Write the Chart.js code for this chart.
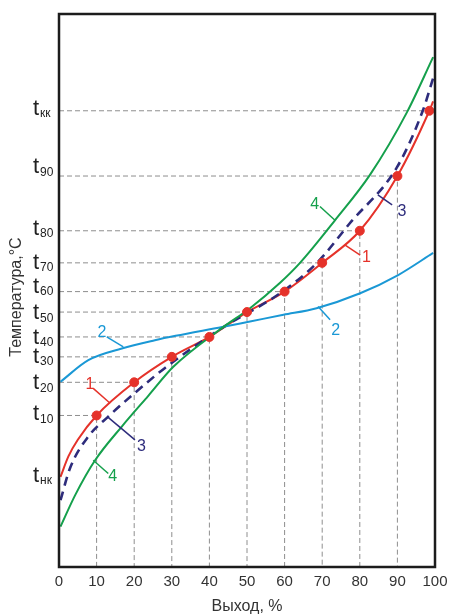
<!DOCTYPE html>
<html>
<head>
<meta charset="utf-8">
<script src="https://cdn.jsdelivr.net/npm/chart.js@4.4.0/dist/chart.umd.min.js"></script>
<style>
  html, body { margin: 0; padding: 0; background: #fff; }
</style>
</head>
<body>
<canvas id="chart" width="449" height="616"></canvas>
<script>
// Кривые разгонки: выход (%) -> температура (условные единицы шкалы)
const curve1X = [0.4, 2.5, 5, 10, 20, 30, 40, 50, 60, 70, 80, 90, 98.5, 99.5];
const curve1Y = [16.3, 20.0, 23.0, 27.4, 33.4, 38.0, 41.6, 46.1, 49.8, 55.0, 60.8, 70.7, 82.5, 84.2];

const curve2X = [0.4, 7.8, 16.7, 25.5, 31, 43.4, 50.8, 59.7, 68.5, 80.1, 90.2, 99.5];
const curve2Y = [33.5, 37.4, 39.5, 41.0, 41.8, 43.4, 44.4, 45.6, 46.8, 49.5, 52.8, 56.8];

const curve3X = [0.4, 3.0, 7.8, 13.1, 20.2, 28.2, 43.3, 58.8, 68.6, 77.4, 89.9, 96.8, 99.5];
const curve3Y = [12.1, 18.0, 23.6, 27.2, 31.5, 36.0, 43.2, 49.5, 55.0, 62.2, 72.3, 82.6, 88.4];

const curve4X = [0.4, 4.3, 9.6, 16.7, 23.8, 30.4, 43.3, 50.8, 58.8, 64.1, 73.4, 82.7, 92.6, 99.5];
const curve4Y = [7.3, 13.0, 19.3, 25.4, 31.0, 36.2, 43.2, 46.8, 51.4, 55.0, 62.7, 70.9, 82.3, 92.2];

// точки отбора фракций на кривой 1 и уровни температур
const pointX = [10, 20, 30, 40, 50, 60, 70, 80, 90, 98.5];
const pointT = [27.4, 33.4, 38.0, 41.6, 46.1, 49.8, 55.0, 60.8, 70.7, 82.5];

// подписи оси температур
const tempLevels = [82.5, 70.7, 60.8, 55.0, 49.8, 46.1, 41.6, 38.0, 33.4, 27.4, 16.3];
const tempSubs = ['кк', '90', '80', '70', '60', '50', '40', '30', '20', '10', 'нк'];
const tempNudge = [-3, -10, -3, -1, -6, 0, 0, -1, 0, -2, -2];

const xTickValues = [0, 10, 20, 30, 40, 50, 60, 70, 80, 90, 100];

// номера кривых с выносками (в единицах осей)
const curveTags = [
  { text: '1', color: '#e5322a', from: [13.6, 29.6], to: [9.1, 32.3], at: [8.2, 32.9] },
  { text: '1', color: '#e5322a', from: [76.1, 58.2], to: [80.1, 56.4], at: [81.8, 55.9] },
  { text: '2', color: '#1a98d5', from: [17.1, 39.8], to: [12.7, 41.6], at: [11.4, 42.4] },
  { text: '2', color: '#1a98d5', from: [68.9, 47.1], to: [72.1, 44.7], at: [73.6, 42.8] },
  { text: '3', color: '#2e2c7c', from: [13.0, 27.1], to: [20.2, 23.0], at: [21.9, 21.7] },
  { text: '3', color: '#2e2c7c', from: [84.8, 67.3], to: [88.6, 65.5], at: [91.2, 64.2] },
  { text: '4', color: '#15a04c', from: [9.1, 19.3], to: [13.1, 16.9], at: [14.3, 16.3] },
  { text: '4', color: '#15a04c', from: [73.4, 62.7], to: [69.4, 65.2], at: [68.0, 65.6] }
];

const FONT = '"Liberation Sans", Arial, sans-serif';

function toPoints(xs, ys) {
  return xs.map((v, i) => ({ x: v, y: ys[i] }));
}

function curve(xs, ys, color, dash) {
  return {
    data: toPoints(xs, ys),
    borderColor: color,
    borderWidth: dash ? 2.6 : 2,
    borderDash: dash || [],
    pointRadius: 0,
    cubicInterpolationMode: 'monotone',
    order: 2
  };
}

// пунктирные направляющие от точек к осям
const guides = pointX.map((px, i) => {
  const pts = [{ x: 0, y: pointT[i] }, { x: px, y: pointT[i] }];
  if (px <= 90) pts.push({ x: px, y: 0 });
  return {
    data: pts,
    borderColor: '#8e8e8e',
    borderWidth: 1,
    borderDash: [5, 3],
    pointRadius: 0,
    tension: 0,
    order: 5
  };
});

const decor = {
  id: 'decor',
  afterDatasetsDraw(chart) {
    const { ctx, scales: { x, y } } = chart;
    ctx.save();
    ctx.font = '16px ' + FONT;
    ctx.textAlign = 'center';
    ctx.textBaseline = 'middle';
    curveTags.forEach(t => {
      ctx.strokeStyle = t.color;
      ctx.lineWidth = 1.5;
      ctx.beginPath();
      ctx.moveTo(x.getPixelForValue(t.from[0]), y.getPixelForValue(t.from[1]));
      ctx.lineTo(x.getPixelForValue(t.to[0]), y.getPixelForValue(t.to[1]));
      ctx.stroke();
      ctx.fillStyle = t.color;
      ctx.fillText(t.text, x.getPixelForValue(t.at[0]), y.getPixelForValue(t.at[1]));
    });
    ctx.restore();
  },
  afterDraw(chart) {
    const { ctx, chartArea: a, scales: { y } } = chart;
    ctx.save();
    // рамка
    ctx.strokeStyle = '#1c1c1c';
    ctx.lineWidth = 2.5;
    ctx.strokeRect(a.left, a.top, a.right - a.left, a.bottom - a.top);

    // подписи t с индексами
    ctx.fillStyle = '#222';
    ctx.textAlign = 'left';
    ctx.textBaseline = 'alphabetic';
    tempLevels.forEach((v, i) => {
      const cy = y.getPixelForValue(v) + tempNudge[i];
      ctx.font = '22px ' + FONT;
      ctx.fillText('t', 33, cy + 7);
      ctx.font = '12px ' + FONT;
      ctx.fillText(tempSubs[i], 40, cy + 9.5);
    });

    // заголовок оси Y
    ctx.translate(17, 297);
    ctx.rotate(-Math.PI / 2);
    ctx.textAlign = 'center';
    ctx.textBaseline = 'middle';
    ctx.font = '16px ' + FONT;
    ctx.fillStyle = '#333';
    ctx.fillText('Температура,°C', 0, 0);
    ctx.restore();
  }
};

new Chart(document.getElementById('chart'), {
  type: 'line',
  data: {
    datasets: [
      ...guides,
      curve(curve4X, curve4Y, '#15a04c'),
      curve(curve2X, curve2Y, '#1a98d5'),
      curve(curve3X, curve3Y, '#2e2c7c', [9, 6]),
      curve(curve1X, curve1Y, '#e5322a'),
      {
        data: toPoints(pointX, pointT),
        showLine: false,
        pointRadius: 4.5,
        pointBackgroundColor: '#e5322a',
        pointBorderColor: '#e5322a',
        order: 1
      }
    ]
  },
  options: {
    responsive: false,
    animation: false,
    layout: { padding: { top: 14, right: 14, left: 0, bottom: 0 } },
    plugins: { legend: { display: false }, tooltip: { enabled: false } },
    scales: {
      x: {
        type: 'linear',
        min: 0,
        max: 100,
        afterBuildTicks: s => { s.ticks = xTickValues.map(v => ({ value: v })); },
        afterFit: s => { s.height = 49; s.paddingLeft = 0; s.paddingRight = 0; },
        grid: { display: false, drawTicks: false },
        border: { display: false },
        ticks: { color: '#333', padding: 6, maxRotation: 0, font: { size: 15, family: FONT } },
        title: {
          display: true,
          text: 'Выход, %',
          color: '#333',
          font: { size: 16, family: FONT },
          padding: { top: 4, bottom: 0 }
        }
      },
      y: {
        min: 0,
        max: 100,
        grid: { display: false, drawTicks: false },
        border: { display: false },
        ticks: { display: false },
        afterFit: s => { s.width = 59; }
      }
    }
  },
  plugins: [decor]
});
</script>
</body>
</html>
